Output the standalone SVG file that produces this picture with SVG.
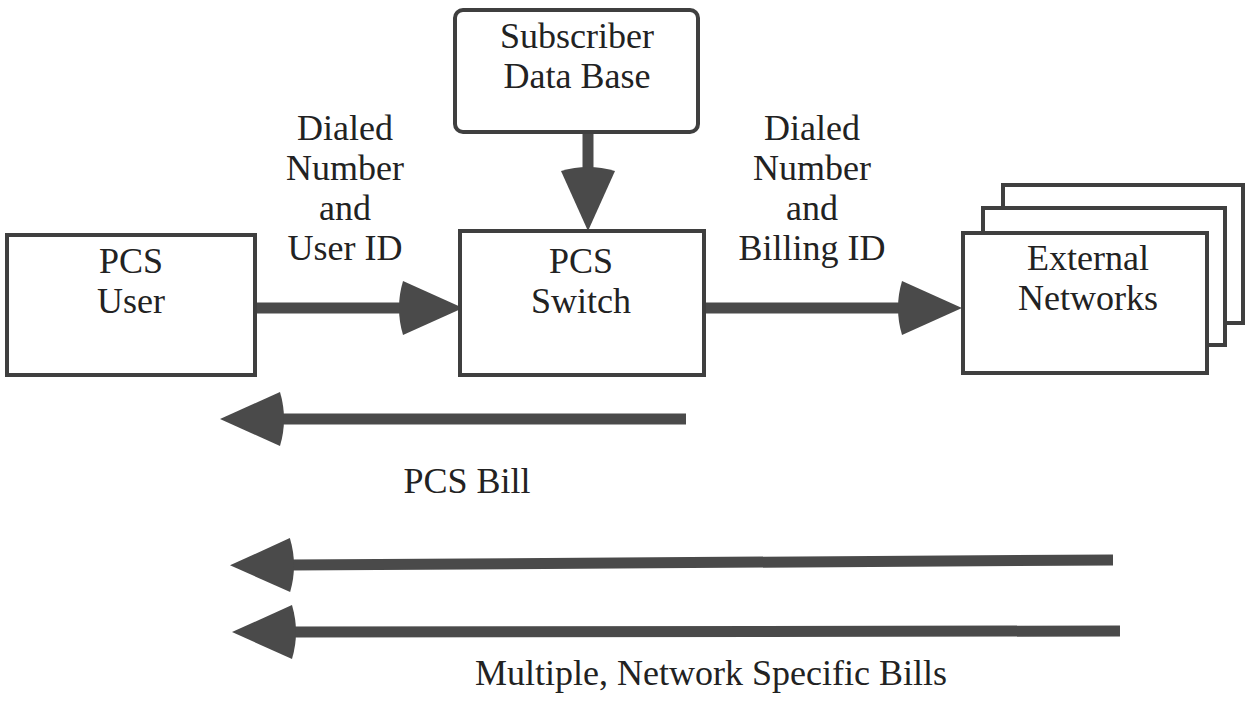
<svg xmlns="http://www.w3.org/2000/svg" width="1245" height="704" viewBox="0 0 1245 704">
<style>
.box{fill:#fff;stroke:#3f3f3f;stroke-width:4}
.lbl{font-family:"Liberation Serif","Times New Roman",serif;font-size:36px;fill:#222;text-anchor:middle}
.conn{stroke:#4a4a4a;stroke-width:11;fill:none}
</style>
<defs>
<marker id="head" viewBox="-10 -30 75 60" markerWidth="75" markerHeight="60" refX="0" refY="0" markerUnits="userSpaceOnUse" orient="auto">
<path d="M60,0 L0,-27 Q-8,0 0,27 Z" fill="#4a4a4a"/>
</marker>
</defs>
<rect width="1245" height="704" fill="#fff"/>
<g id="connectors">
<line class="conn" x1="255" y1="308" x2="403" y2="308" marker-end="url(#head)"/>
<line class="conn" x1="704" y1="308" x2="902" y2="308" marker-end="url(#head)"/>
<line class="conn" x1="588" y1="132" x2="588" y2="171" marker-end="url(#head)"/>
<line class="conn" x1="686" y1="419" x2="280" y2="419" marker-end="url(#head)"/>
<line class="conn" x1="1113" y1="560" x2="290" y2="565" marker-end="url(#head)"/>
<line class="conn" x1="1120" y1="631" x2="292" y2="632" marker-end="url(#head)"/>
</g>
<g id="db">
<rect class="box" x="455" y="10" width="243" height="122" rx="8"/>
<text class="lbl" x="577" y="48">Subscriber</text>
<text class="lbl" x="577" y="88">Data Base</text>
</g>
<g id="user">
<rect class="box" x="7" y="235" width="248" height="140"/>
<text class="lbl" x="131" y="273">PCS</text>
<text class="lbl" x="131" y="313">User</text>
</g>
<g id="switch">
<rect class="box" x="460" y="231" width="244" height="144"/>
<text class="lbl" x="581" y="273">PCS</text>
<text class="lbl" x="581" y="313">Switch</text>
</g>
<g id="external">
<rect class="box" x="1003" y="185" width="240" height="138"/>
<rect class="box" x="983" y="208" width="242" height="137"/>
<rect class="box" x="963" y="233" width="244" height="140"/>
<text class="lbl" x="1088" y="270">External</text>
<text class="lbl" x="1088" y="310">Networks</text>
</g>
<g id="label-user-id">
<text class="lbl" x="345" y="140">Dialed</text>
<text class="lbl" x="345" y="180">Number</text>
<text class="lbl" x="345" y="220">and</text>
<text class="lbl" x="345" y="260">User ID</text>
</g>
<g id="label-billing-id">
<text class="lbl" x="812" y="140">Dialed</text>
<text class="lbl" x="812" y="180">Number</text>
<text class="lbl" x="812" y="220">and</text>
<text class="lbl" x="812" y="260">Billing ID</text>
</g>
<g id="label-bills">
<text class="lbl" x="467" y="493">PCS Bill</text>
<text class="lbl" x="711" y="685">Multiple, Network Specific Bills</text>
</g>
</svg>
